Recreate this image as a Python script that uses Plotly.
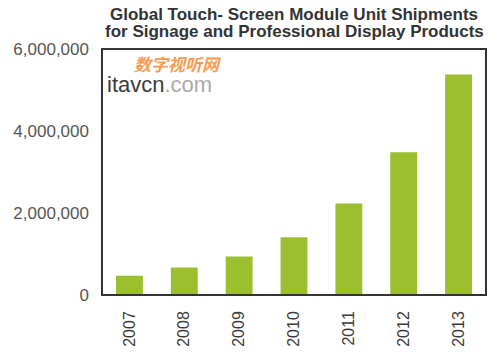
import plotly.graph_objects as go

years = ["2007", "2008", "2009", "2010", "2011", "2012", "2013"]
shipments = [470000, 670000, 940000, 1410000, 2230000, 3480000, 5380000]
y_ticks = [0, 2000000, 4000000, 6000000]
y_tick_labels = ["0", "2,000,000", "4,000,000", "6,000,000"]

title_line1 = "Global Touch- Screen Module Unit Shipments"
title_line2 = "for Signage and Professional Display Products"

FONT = "Arial, Liberation Sans, sans-serif"

fig = go.Figure(go.Bar(
    x=years, y=shipments,
    marker=dict(color="#9cbf2f", line=dict(width=0)),
    width=0.49,
))

# the page body adds an 8px offset; the figure is sized/margined to compensate
fig.update_layout(
    width=492, height=355,
    margin=dict(l=94, r=14, t=41, b=68),
    paper_bgcolor="white", plot_bgcolor="white",
    font=dict(family=FONT, color="#555"),
    showlegend=False,
)

fig.update_xaxes(
    type="category", tickangle=-90, showgrid=False, automargin=False,
    tickfont=dict(size=16, color="#3a3a3a"),
    showline=False, ticks="", ticklabelstandoff=12,
)
fig.update_yaxes(
    range=[0, 6000000], tickvals=y_ticks, ticktext=y_tick_labels,
    showgrid=False, zeroline=False, automargin=False,
    tickfont=dict(size=17, color="#555"),
    showline=False, ticks="", ticklabelstandoff=12,
)

fig.add_shape(type="rect", xref="paper", yref="paper", x0=0, y0=0, x1=1, y1=1,
              line=dict(color="#333", width=2), layer="above")

fig.add_annotation(
    text="<b>" + title_line1 + "</b>", xref="paper", yref="paper",
    x=0.5, y=1.141, xanchor="center", yanchor="middle", showarrow=False,
    font=dict(size=17, color="#333", family=FONT),
)
fig.add_annotation(
    text="<b>" + title_line2 + "</b>", xref="paper", yref="paper",
    x=0.5, y=1.071, xanchor="center", yanchor="middle", showarrow=False,
    font=dict(size=17, color="#333", family=FONT),
)
fig.add_annotation(
    text="<b><i>数字视听网</i></b>", xref="paper", yref="paper",
    x=0.078, y=1.0, xanchor="left", yanchor="top", showarrow=False,
    font=dict(size=17, color="#f79a52", family="Noto Sans CJK SC"),
)
fig.add_annotation(
    text="<span style='color:#3a3a3a'>itavcn</span><span style='color:#aaa'>.com</span>",
    xref="paper", yref="paper",
    x=0.008, y=0.915, xanchor="left", yanchor="top", showarrow=False,
    font=dict(size=22, family=FONT),
)

fig.write_html("out.html")
